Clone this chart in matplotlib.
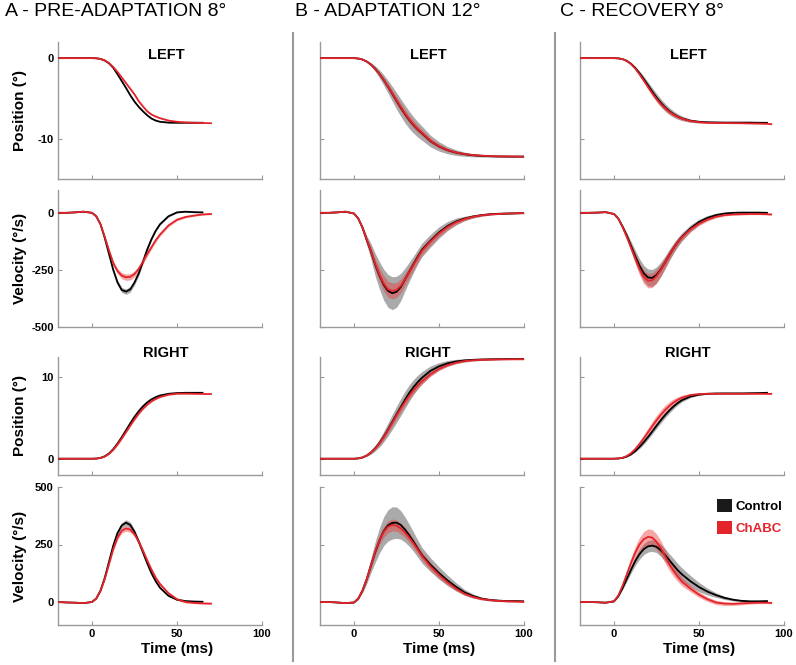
import numpy as np
import matplotlib.pyplot as plt
from matplotlib.patches import Patch
from matplotlib.lines import Line2D

plt.rcParams['font.family'] = ['Liberation Sans', 'DejaVu Sans']
plt.rcParams['font.weight'] = 'bold'
plt.rcParams['axes.labelweight'] = 'bold'
plt.rcParams['axes.unicode_minus'] = False

nan = np.nan

# time grids (ms), one per column
t_a = [-20, -15, -10, -5, 0, 2.5, 5, 7.5, 10, 12.5, 15, 17.5, 20, 22.5, 25, 27.5, 30, 32.5, 35, 37.5, 40,
       45, 50, 55, 60, 65, 70]
t_b = [-20, -15, -10, -5, 0, 2.5, 5, 7.5, 10, 12.5, 15, 17.5, 20, 22.5, 25, 27.5, 30, 32.5, 35, 37.5, 40,
       45, 50, 55, 60, 65, 70, 75, 80, 85, 90, 95, 100]
t_c = [-20, -15, -10, -5, 0, 2.5, 5, 7.5, 10, 12.5, 15, 17.5, 20, 22.5, 25, 27.5, 30, 32.5, 35, 37.5, 40,
       45, 50, 55, 60, 65, 70, 75, 80, 85, 90, 92.5]

# ---- A - pre-adaptation 8 deg ----
a_lpos_ctrl = [0, 0, 0, 0, 0, -0.02, -0.1, -0.3, -0.65, -1.2, -2.0, -2.85, -3.7, -4.6, -5.4, -6.05, -6.6, -7.1,
               -7.5, -7.75, -7.9, -8.0, -8.02, -8.02, -8.02, -8.02, nan]
a_lpos_ctrl_sd = [0, 0, 0, 0, 0, 0.01, 0.02, 0.03, 0.05, 0.06, 0.08, 0.09, 0.1, 0.1, 0.1, 0.1, 0.09, 0.08, 0.07,
                  0.06, 0.05, 0.05, 0.04, 0.04, 0.04, 0.04, nan]
a_lpos_chabc = [0, 0, 0, 0, 0, -0.02, -0.1, -0.28, -0.62, -1.11, -1.72, -2.4, -3.1, -3.8, -4.5, -5.35, -6.0, -6.6,
                -7.0, -7.25, -7.45, -7.75, -7.9, -7.98, -8.02, -8.05, -8.08]
a_lpos_chabc_sd = [0, 0, 0, 0, 0, 0.01, 0.02, 0.04, 0.06, 0.08, 0.1, 0.11, 0.12, 0.12, 0.12, 0.11, 0.1, 0.09,
                   0.08, 0.07, 0.06, 0.05, 0.05, 0.04, 0.04, 0.04, 0.04]
a_lvel_ctrl = [0, 0, 2, 5, 0, -15, -50, -110, -180, -250, -305, -338, -345, -335, -305, -265, -213, -160, -115,
               -78, -50, -15, 2, 5, 3, 2, nan]
a_lvel_ctrl_sd = [0, 0, 0, 0, 0, 1, 2, 4, 6, 8, 10, 11, 12, 12, 11, 10, 8, 7, 6, 5, 4, 3, 2, 2, 2, 2, nan]
a_lvel_chabc = [0, 0, 2, 5, 0, -15, -50, -105, -165, -220, -255, -275, -282, -280, -268, -245, -213, -180, -150,
                -120, -95, -55, -30, -18, -12, -7, -5]
a_lvel_chabc_sd = [0, 0, 0, 0, 0, 1, 3, 5, 8, 10, 12, 13, 14, 14, 13, 12, 11, 10, 9, 8, 7, 6, 5, 4, 3, 3, 3]
a_rpos_ctrl = [0, 0, 0, 0, 0, 0.02, 0.1, 0.3, 0.65, 1.18, 1.86, 2.65, 3.5, 4.35, 5.15, 5.85, 6.45, 6.93, 7.3,
               7.57, 7.77, 7.98, 8.07, 8.1, 8.1, 8.1, nan]
a_rpos_ctrl_sd = [0, 0, 0, 0, 0, 0.01, 0.02, 0.03, 0.05, 0.06, 0.08, 0.09, 0.1, 0.1, 0.1, 0.1, 0.09, 0.08, 0.07,
                  0.06, 0.05, 0.05, 0.04, 0.04, 0.04, 0.04, nan]
a_rpos_chabc = [0, 0, 0, 0, 0, 0.02, 0.09, 0.27, 0.6, 1.1, 1.74, 2.48, 3.27, 4.07, 4.84, 5.54, 6.15, 6.65, 7.05,
                7.35, 7.58, 7.87, 7.99, 8.0, 7.98, 7.96, 7.95]
a_rpos_chabc_sd = [0, 0, 0, 0, 0, 0.01, 0.02, 0.04, 0.06, 0.08, 0.1, 0.11, 0.12, 0.12, 0.12, 0.11, 0.1, 0.09,
                   0.08, 0.07, 0.06, 0.05, 0.05, 0.04, 0.04, 0.04, 0.04]
a_rvel_ctrl = [0, -2, -3, -5, 0, 15, 50, 105, 175, 245, 300, 333, 345, 335, 305, 262, 215, 168, 125, 90, 62,
               27, 10, 4, 2, 1, nan]
a_rvel_ctrl_sd = [0, 0, 0, 0, 0, 1, 3, 5, 7, 9, 11, 12, 13, 12, 11, 10, 9, 8, 7, 6, 5, 4, 3, 2, 2, 2, nan]
a_rvel_chabc = [0, -2, -3, -5, 0, 15, 48, 100, 165, 230, 280, 310, 320, 315, 295, 262, 222, 180, 140, 105, 78,
                38, 12, 0, -4, -6, -7]
a_rvel_chabc_sd = [0, 0, 0, 0, 0, 1, 3, 5, 7, 9, 10, 11, 12, 12, 12, 12, 11, 10, 9, 8, 7, 6, 5, 4, 3, 3, 3]

# ---- B - adaptation 12 deg ----
b_lpos_ctrl = [0, 0, 0, 0, 0, -0.05, -0.17, -0.42, -0.8, -1.32, -1.97, -2.72, -3.55, -4.42, -5.3, -6.15, -6.95,
               -7.67, -8.3, -8.85, -9.32, -10.3, -10.95, -11.42, -11.72, -11.92, -12.05, -12.12, -12.17, -12.2,
               -12.21, -12.22, -12.22]
b_lpos_ctrl_sd = [0, 0, 0, 0, 0, 0.02, 0.05, 0.12, 0.22, 0.35, 0.5, 0.65, 0.8, 0.92, 1.02, 1.08, 1.1, 1.08, 1.02,
                  0.95, 0.88, 0.72, 0.58, 0.45, 0.35, 0.26, 0.2, 0.15, 0.12, 0.1, 0.08, 0.07, 0.06]
b_lpos_chabc = [0, 0, 0, 0, 0, -0.05, -0.18, -0.43, -0.82, -1.34, -1.98, -2.72, -3.53, -4.38, -5.24, -6.08, -6.88,
                -7.6, -8.24, -8.8, -9.27, -10.25, -10.92, -11.4, -11.7, -11.9, -12.03, -12.1, -12.15, -12.18,
                -12.2, -12.21, -12.22]
b_lpos_chabc_sd = [0, 0, 0, 0, 0, 0.01, 0.03, 0.06, 0.11, 0.17, 0.24, 0.31, 0.38, 0.44, 0.48, 0.5, 0.5, 0.48,
                   0.45, 0.42, 0.38, 0.32, 0.26, 0.2, 0.15, 0.12, 0.1, 0.08, 0.06, 0.05, 0.04, 0.04, 0.04]
b_lvel_ctrl = [0, 0, 2, 5, -3, -25, -65, -120, -170, -228, -275, -315, -342, -352, -346, -325, -292, -258, -225,
               -192, -162, -122, -86, -58, -38, -25, -16, -10, -6, -4, -3, -2, -1]
b_lvel_ctrl_sd = [0, 0, 1, 1, 2, 5, 10, 20, 35, 50, 60, 68, 72, 72, 68, 60, 50, 42, 36, 32, 30, 28, 25, 20, 15,
                  10, 7, 5, 4, 3, 3, 3, 3]
b_lvel_chabc = [0, 0, 2, 5, -3, -25, -65, -118, -168, -225, -272, -310, -335, -342, -338, -320, -292, -260, -228,
                -196, -166, -125, -90, -62, -41, -27, -17, -11, -7, -5, -3, -2, -1]
b_lvel_chabc_sd = [0, 0, 1, 1, 1, 3, 6, 11, 18, 25, 30, 34, 35, 35, 33, 30, 27, 24, 22, 20, 18, 16, 14, 12, 10,
                   7, 5, 4, 3, 2, 2, 2, 2]
b_rpos_ctrl = [0, 0, 0, 0, 0, 0.04, 0.16, 0.4, 0.78, 1.3, 1.95, 2.72, 3.6, 4.52, 5.45, 6.35, 7.25, 8.08, 8.8,
               9.42, 9.95, 10.8, 11.35, 11.72, 11.95, 12.08, 12.15, 12.2, 12.22, 12.24, 12.25, 12.25, 12.25]
b_rpos_ctrl_sd = [0, 0, 0, 0, 0, 0.02, 0.05, 0.12, 0.22, 0.35, 0.5, 0.65, 0.8, 0.92, 1.0, 1.05, 1.05, 1.0, 0.93,
                  0.85, 0.76, 0.6, 0.46, 0.35, 0.26, 0.2, 0.15, 0.12, 0.1, 0.08, 0.07, 0.06, 0.06]
b_rpos_chabc = [0, 0, 0, 0, 0, 0.04, 0.16, 0.4, 0.77, 1.28, 1.92, 2.67, 3.52, 4.42, 5.33, 6.18, 7.0, 7.75, 8.42,
                9.02, 9.52, 10.4, 11.05, 11.5, 11.8, 12.0, 12.1, 12.15, 12.18, 12.2, 12.21, 12.22, 12.22]
b_rpos_chabc_sd = [0, 0, 0, 0, 0, 0.01, 0.03, 0.07, 0.12, 0.18, 0.25, 0.32, 0.38, 0.43, 0.46, 0.47, 0.46, 0.44,
                   0.41, 0.38, 0.34, 0.28, 0.22, 0.17, 0.13, 0.1, 0.08, 0.06, 0.05, 0.04, 0.04, 0.04, 0.04]
b_rvel_ctrl = [0, 0, -2, -5, -2, 15, 50, 100, 160, 218, 268, 308, 333, 344, 345, 335, 315, 290, 262, 232, 203,
               162, 126, 94, 66, 42, 26, 15, 9, 6, 4, 4, 3]
b_rvel_ctrl_sd = [0, 0, 1, 1, 2, 5, 10, 20, 32, 45, 55, 63, 68, 70, 68, 62, 55, 48, 42, 37, 34, 30, 27, 23, 18,
                  13, 9, 6, 5, 4, 4, 4, 4]
b_rvel_chabc = [0, 0, -2, -5, -2, 15, 50, 100, 160, 220, 270, 305, 327, 335, 332, 320, 302, 280, 255, 228, 200,
                155, 118, 86, 58, 36, 22, 13, 8, 5, 3, 2, 1]
b_rvel_chabc_sd = [0, 0, 1, 1, 1, 3, 5, 9, 14, 18, 22, 24, 26, 26, 25, 24, 22, 21, 20, 19, 18, 17, 15, 12, 9, 6,
                   4, 3, 2, 2, 2, 2, 2]

# ---- C - recovery 8 deg ----
c_lpos_ctrl = [0, 0, 0, 0, 0, -0.03, -0.12, -0.33, -0.7, -1.22, -1.87, -2.6, -3.38, -4.15, -4.88, -5.53, -6.1,
               -6.57, -6.95, -7.25, -7.48, -7.77, -7.9, -7.96, -7.98, -8.0, -8.0, -8.0, -8.0, -8.02, -8.03, nan]
c_lpos_ctrl_sd = [0, 0, 0, 0, 0, 0.01, 0.03, 0.07, 0.13, 0.2, 0.28, 0.36, 0.43, 0.48, 0.5, 0.5, 0.48, 0.44, 0.39,
                  0.34, 0.29, 0.2, 0.14, 0.1, 0.08, 0.07, 0.06, 0.06, 0.06, 0.06, 0.06, nan]
c_lpos_chabc = [0, 0, 0, 0, 0, -0.03, -0.13, -0.36, -0.75, -1.3, -2.0, -2.78, -3.58, -4.35, -5.05, -5.68, -6.2,
                -6.65, -7.0, -7.28, -7.5, -7.8, -7.95, -8.02, -8.05, -8.06, -8.07, -8.08, -8.1, -8.12, -8.15, -8.2]
c_lpos_chabc_sd = [0, 0, 0, 0, 0, 0.01, 0.02, 0.05, 0.09, 0.14, 0.2, 0.25, 0.29, 0.32, 0.33, 0.33, 0.31, 0.28,
                   0.25, 0.22, 0.19, 0.14, 0.1, 0.08, 0.06, 0.05, 0.05, 0.05, 0.05, 0.05, 0.05, 0.05]
c_lvel_ctrl = [0, 0, 1, 3, -5, -25, -60, -100, -145, -190, -232, -265, -283, -285, -272, -248, -218, -185, -155,
               -128, -105, -68, -40, -22, -10, -3, 0, 1, 1, 1, 0, nan]
c_lvel_ctrl_sd = [0, 0, 1, 1, 2, 4, 8, 14, 20, 26, 31, 35, 37, 37, 35, 32, 28, 25, 22, 20, 18, 15, 12, 10, 8, 6,
                  5, 4, 4, 4, 4, nan]
c_lvel_chabc = [0, 0, 1, 3, -5, -25, -62, -105, -152, -200, -245, -280, -297, -295, -278, -250, -218, -185, -155,
                -128, -106, -72, -47, -29, -17, -10, -7, -6, -5, -5, -6, -7]
c_lvel_chabc_sd = [0, 0, 1, 1, 2, 4, 8, 13, 18, 23, 27, 30, 32, 32, 30, 27, 24, 21, 18, 16, 14, 11, 9, 7, 5, 4,
                   3, 3, 3, 3, 3, 3]
c_rpos_ctrl = [0, 0, 0, 0, 0, 0.03, 0.1, 0.27, 0.55, 0.95, 1.45, 2.03, 2.67, 3.35, 4.05, 4.72, 5.35, 5.92, 6.42,
               6.85, 7.2, 7.65, 7.88, 7.98, 8.02, 8.03, 8.03, 8.03, 8.05, 8.07, 8.1, nan]
c_rpos_ctrl_sd = [0, 0, 0, 0, 0, 0.01, 0.03, 0.06, 0.1, 0.15, 0.2, 0.25, 0.29, 0.32, 0.34, 0.35, 0.34, 0.32,
                  0.29, 0.25, 0.21, 0.14, 0.09, 0.06, 0.05, 0.05, 0.05, 0.05, 0.05, 0.05, 0.05, nan]
c_rpos_chabc = [0, 0, 0, 0, 0, 0.03, 0.12, 0.33, 0.68, 1.18, 1.8, 2.5, 3.25, 4.0, 4.72, 5.38, 5.97, 6.47, 6.9,
                7.23, 7.5, 7.82, 7.95, 7.98, 7.98, 7.98, 7.98, 7.98, 7.98, 7.98, 7.97, 7.97]
c_rpos_chabc_sd = [0, 0, 0, 0, 0, 0.02, 0.05, 0.11, 0.19, 0.28, 0.37, 0.45, 0.52, 0.57, 0.6, 0.6, 0.57, 0.52,
                   0.45, 0.38, 0.31, 0.2, 0.12, 0.08, 0.06, 0.05, 0.05, 0.05, 0.05, 0.05, 0.05, 0.05]
c_rvel_ctrl = [0, 0, -1, -3, 3, 25, 60, 100, 140, 178, 208, 230, 242, 245, 240, 225, 205, 182, 160, 138, 120,
               90, 65, 45, 30, 18, 10, 5, 3, 3, 4, nan]
c_rvel_ctrl_sd = [0, 0, 1, 1, 2, 4, 7, 11, 15, 19, 22, 24, 25, 25, 25, 26, 27, 28, 29, 29, 28, 25, 20, 15, 10, 7,
                  5, 4, 3, 3, 3, nan]
c_rvel_chabc = [0, 0, -1, -3, 3, 28, 70, 120, 170, 215, 250, 273, 283, 280, 262, 235, 200, 165, 135, 110, 88,
                58, 32, 12, -2, -7, -8, -6, -4, -3, -3, -4]
c_rvel_chabc_sd = [0, 0, 1, 1, 2, 5, 10, 16, 22, 27, 31, 34, 35, 35, 34, 32, 30, 27, 24, 21, 18, 14, 12, 10, 9,
                   8, 7, 6, 5, 4, 4, 4]

col_titles = ['A - PRE-ADAPTATION 8°', 'B - ADAPTATION 12°', 'C - RECOVERY 8°']
row_ylabels = ['Position (°)', 'Velocity (°/s)', 'Position (°)', 'Velocity (°/s)']
row_ylims = [(-15, 2), (-500, 100), (-2, 12.5), (-100, 500)]
row_yticks = [[-10, 0], [-500, -250, 0], [0, 10], [0, 250, 500]]

RED = '#e3242b'
GRAY = '#aaaaaa'
SPINE = '#9a9a9a'

columns = [
    (t_a, [(a_lpos_ctrl, a_lpos_ctrl_sd, a_lpos_chabc, a_lpos_chabc_sd),
           (a_lvel_ctrl, a_lvel_ctrl_sd, a_lvel_chabc, a_lvel_chabc_sd),
           (a_rpos_ctrl, a_rpos_ctrl_sd, a_rpos_chabc, a_rpos_chabc_sd),
           (a_rvel_ctrl, a_rvel_ctrl_sd, a_rvel_chabc, a_rvel_chabc_sd)]),
    (t_b, [(b_lpos_ctrl, b_lpos_ctrl_sd, b_lpos_chabc, b_lpos_chabc_sd),
           (b_lvel_ctrl, b_lvel_ctrl_sd, b_lvel_chabc, b_lvel_chabc_sd),
           (b_rpos_ctrl, b_rpos_ctrl_sd, b_rpos_chabc, b_rpos_chabc_sd),
           (b_rvel_ctrl, b_rvel_ctrl_sd, b_rvel_chabc, b_rvel_chabc_sd)]),
    (t_c, [(c_lpos_ctrl, c_lpos_ctrl_sd, c_lpos_chabc, c_lpos_chabc_sd),
           (c_lvel_ctrl, c_lvel_ctrl_sd, c_lvel_chabc, c_lvel_chabc_sd),
           (c_rpos_ctrl, c_rpos_ctrl_sd, c_rpos_chabc, c_rpos_chabc_sd),
           (c_rvel_ctrl, c_rvel_ctrl_sd, c_rvel_chabc, c_rvel_chabc_sd)]),
]

W, H = 796, 665
fig = plt.figure(figsize=(W / 100, H / 100), dpi=100)

col_left = [58, 320, 580]
col_width = 204
row_px = [(42, 179), (190, 327), (357, 475), (487, 625)]
title_x = [5, 295, 560]


def draw(ax, t, ctrl, ctrl_sd, chabc, chabc_sd):
    t = np.array(t)
    ctrl, ctrl_sd = np.array(ctrl), np.array(ctrl_sd)
    chabc, chabc_sd = np.array(chabc), np.array(chabc_sd)
    ax.fill_between(t, ctrl - ctrl_sd, ctrl + ctrl_sd, color=GRAY, lw=0, zorder=1)
    ax.fill_between(t, chabc - chabc_sd, chabc + chabc_sd, color='#ee3a3a', alpha=0.45, lw=0, zorder=2)
    ax.plot(t, ctrl, color='black', lw=1.3, zorder=3)
    ax.plot(t, chabc, color=RED, lw=1.3, zorder=4)


for c, (t, panels) in enumerate(columns):
    for r, (ctrl, ctrl_sd, chabc, chabc_sd) in enumerate(panels):
        top, bot = row_px[r]
        ax = fig.add_axes([col_left[c] / W, 1 - bot / H, col_width / W, (bot - top) / H])
        draw(ax, t, ctrl, ctrl_sd, chabc, chabc_sd)
        ax.set_xlim(-20, 100)
        ax.set_ylim(*row_ylims[r])
        ax.set_xticks([0, 50, 100])
        ax.set_yticks(row_yticks[r])
        for s in ['top', 'right']:
            ax.spines[s].set_visible(False)
        for s in ['left', 'bottom']:
            ax.spines[s].set_color(SPINE)
            ax.spines[s].set_linewidth(1.0)
        ax.tick_params(direction='in', length=3, width=0.8, color=SPINE, labelsize=8, pad=3)
        ax.tick_params(labelleft=(c == 0), labelbottom=(r == 3))
        for lbl in ax.get_xticklabels() + ax.get_yticklabels():
            lbl.set_fontweight('bold')
        if c == 0:
            ax.set_ylabel(row_ylabels[r], fontsize=11, fontweight='bold')
            ax.yaxis.set_label_coords(-0.15, 0.5)
        if r == 3:
            ax.set_xlabel('Time (ms)', fontsize=11, fontweight='bold')
            ax.xaxis.set_label_coords(0.583, -0.12)
        if r == 0:
            ax.text(0.53, 0.905, 'LEFT', transform=ax.transAxes, ha='center', va='center',
                    fontsize=10.5, fontweight='bold')
        if r == 2:
            ax.text(0.53, 1.03, 'RIGHT', transform=ax.transAxes, ha='center', va='center',
                    fontsize=10.5, fontweight='bold')
        if c == 2 and r == 3:
            handles = [Patch(facecolor='#1a1a1a', edgecolor='none', label='Control'),
                       Patch(facecolor=RED, edgecolor='none', label='ChABC')]
            leg = ax.legend(handles=handles, loc='upper left', bbox_to_anchor=(0.673, 0.91), frameon=False,
                            borderaxespad=0, borderpad=0, handlelength=1.1, handleheight=1.1,
                            handletextpad=0.25, labelspacing=0.6, fontsize=9.5, labelcolor=['black', RED])
            for txt in leg.get_texts():
                txt.set_fontweight('bold')
    fig.text(title_x[c] / W, 1 - 11 / H, col_titles[c], fontsize=14, fontweight='normal',
             ha='left', va='center')

for x in [293, 555]:
    fig.add_artist(Line2D([x / W, x / W], [1 - 33 / H, 1 - 661 / H], color=SPINE, lw=1.5,
                          transform=fig.transFigure))

fig.savefig('out.png', dpi=100)
